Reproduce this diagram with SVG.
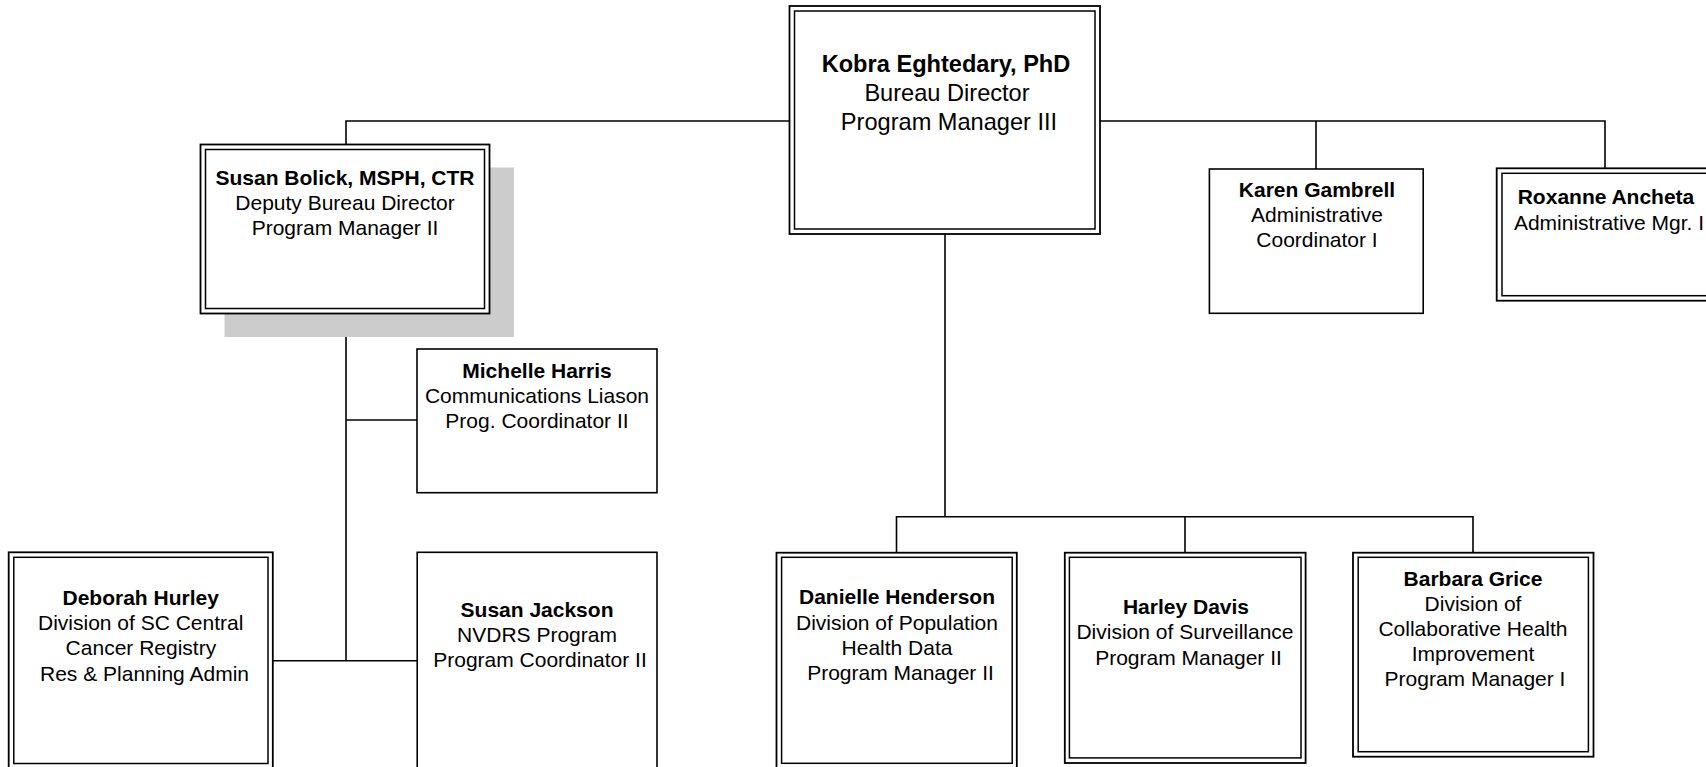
<svg xmlns="http://www.w3.org/2000/svg" width="1706" height="767" viewBox="0 0 1706 767">
<style>
  .bg { fill: #ffffff; }
  .outer { fill: #ffffff; stroke: #000000; stroke-width: 1.8; }
  .inner { fill: none; stroke: #000000; stroke-width: 1.5; }
  .single { fill: #ffffff; stroke: #000000; stroke-width: 1.6; }
  .shadow { fill: #cccccc; stroke: none; }
  .conn { fill: none; stroke: #000000; stroke-width: 1.6; }
  text { font-family: "Liberation Sans", Arial, sans-serif; font-size: 21px; fill: #000000; text-anchor: middle; }
  .b { font-weight: bold; }
  .big { font-size: 23.6px; }
</style>
<rect class="bg" x="0" y="0" width="1706" height="767"/>

<g id="connectors">
  <path class="conn" d="M346,144.5 V121 H789.5"/>
  <path class="conn" d="M1100,121 H1605 V168.3"/>
  <path class="conn" d="M1316,121 V169"/>
  <path class="conn" d="M945,234 V516.7"/>
  <path class="conn" d="M896.5,552.7 V516.7 H1473 V552.7"/>
  <path class="conn" d="M1185,516.7 V552.7"/>
  <path class="conn" d="M346,313.5 V660.7"/>
  <path class="conn" d="M346,420 H417"/>
  <path class="conn" d="M272.8,660.7 H417.2"/>
</g>

<g id="kobra">
  <rect class="outer" x="789.5" y="6" width="310.5" height="228"/>
  <rect class="inner" x="794.5" y="11" width="300.5" height="218"/>
  <text class="b big" x="946" y="71.5">Kobra Eghtedary, PhD</text>
  <text class="big" x="947" y="100.5">Bureau Director</text>
  <text class="big" x="949" y="129.5">Program Manager III</text>
</g>

<g id="bolick">
  <rect class="shadow" x="224.5" y="167.5" width="289.5" height="169.5"/>
  <rect class="outer" x="200.5" y="144.5" width="289" height="169"/>
  <rect class="inner" x="205.5" y="149.5" width="279" height="159"/>
  <text class="b" x="345" y="185">Susan Bolick, MSPH, CTR</text>
  <text x="345" y="210.2">Deputy Bureau Director</text>
  <text x="345" y="235.4">Program Manager II</text>
</g>

<g id="karen">
  <rect class="single" x="1209.4" y="169" width="213.8" height="144.3"/>
  <text class="b" x="1317" y="197">Karen Gambrell</text>
  <text x="1317" y="222">Administrative</text>
  <text x="1317" y="247">Coordinator I</text>
</g>

<g id="roxanne">
  <rect class="outer" x="1496.7" y="168.3" width="216.6" height="132.4"/>
  <rect class="inner" x="1502" y="173.3" width="206" height="122.4"/>
  <text class="b" x="1606" y="204.3">Roxanne Ancheta</text>
  <text x="1609" y="229.5">Administrative Mgr. I</text>
</g>

<g id="michelle">
  <rect class="single" x="417" y="349" width="240" height="143.7"/>
  <text class="b" x="537" y="378">Michelle Harris</text>
  <text x="537" y="403">Communications Liason</text>
  <text x="537" y="428">Prog. Coordinator II</text>
</g>

<g id="deborah">
  <rect class="outer" x="8.7" y="552.3" width="264.1" height="217"/>
  <rect class="inner" x="13.8" y="557.3" width="254.2" height="206.2"/>
  <text class="b" x="140.7" y="605">Deborah Hurley</text>
  <text x="140.7" y="630.2">Division of SC Central</text>
  <text x="140.9" y="655.4">Cancer Registry</text>
  <text x="144.5" y="680.6">Res &amp; Planning Admin</text>
</g>

<g id="jackson">
  <rect class="single" x="417.2" y="552.3" width="239.8" height="220"/>
  <text class="b" x="537" y="616.5">Susan Jackson</text>
  <text x="537" y="641.7">NVDRS Program</text>
  <text x="540" y="667">Program Coordinator II</text>
</g>

<g id="danielle">
  <rect class="outer" x="776.5" y="552.7" width="240.3" height="216.5"/>
  <rect class="inner" x="781.6" y="557.3" width="230.6" height="206"/>
  <text class="b" x="897" y="604.3">Danielle Henderson</text>
  <text x="897" y="629.5">Division of Population</text>
  <text x="897" y="654.7">Health Data</text>
  <text x="900.5" y="679.9">Program Manager II</text>
</g>

<g id="harley">
  <rect class="outer" x="1064.8" y="552.7" width="240.8" height="210.3"/>
  <rect class="inner" x="1069.4" y="557.3" width="231.6" height="200.6"/>
  <text class="b" x="1186" y="614">Harley Davis</text>
  <text x="1185" y="639.3">Division of Surveillance</text>
  <text x="1188.5" y="664.5">Program Manager II</text>
</g>

<g id="barbara">
  <rect class="outer" x="1353" y="552.7" width="240.5" height="204"/>
  <rect class="inner" x="1358.2" y="557.3" width="230.2" height="194.4"/>
  <text class="b" x="1473" y="585.5">Barbara Grice</text>
  <text x="1473" y="610.7">Division of</text>
  <text x="1473" y="635.9">Collaborative Health</text>
  <text x="1473" y="661.1">Improvement</text>
  <text x="1475" y="686.3">Program Manager I</text>
</g>
</svg>
